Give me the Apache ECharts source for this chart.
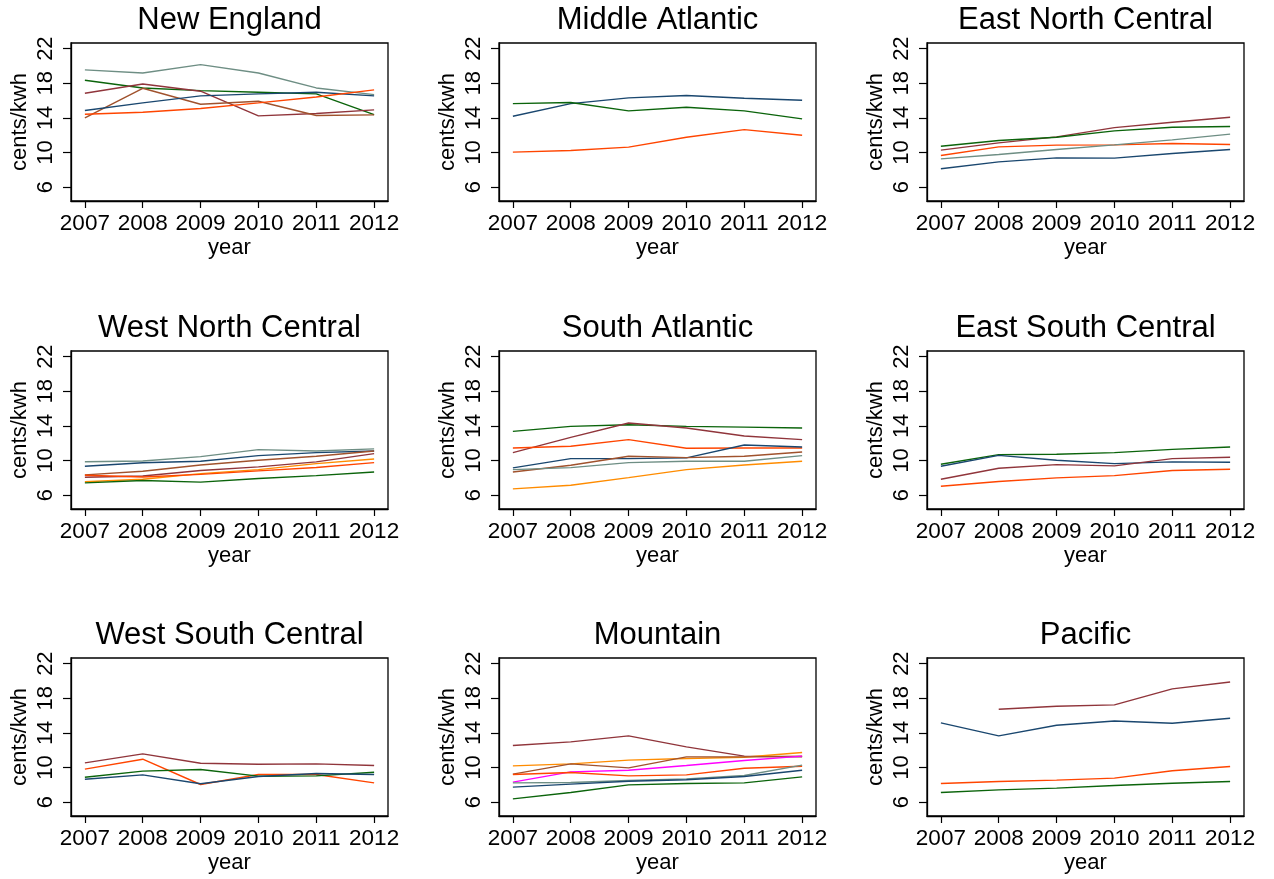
<!DOCTYPE html>
<html><head><meta charset="utf-8">
<script src="https://cdn.jsdelivr.net/npm/echarts@6/dist/echarts.min.js"></script>
<style>html,body{margin:0;padding:0;background:#fff}#c{width:1274px;height:879px}</style>
</head><body><div id="c"></div>
<script>
// ---- data ----
const years = [2007, 2008, 2009, 2010, 2011, 2012];
const yTicks = [6, 10, 14, 18, 22];
const regions = ["New England", "Middle Atlantic", "East North Central",
  "West North Central", "South Atlantic", "East South Central",
  "West South Central", "Mountain", "Pacific"];

// New England
const NE_navy      = [14.85, 15.73, 16.54, 16.77, 16.96, 16.54];
const NE_maroon    = [16.85, 17.92, 17.08, 14.23, 14.50, 14.92];
const NE_green     = [18.35, 17.46, 17.15, 16.96, 16.77, 14.38];
const NE_orangered = [14.42, 14.65, 15.08, 15.73, 16.42, 17.23];
const NE_teal      = [19.54, 19.19, 20.15, 19.19, 17.46, 16.69];
const NE_brown     = [14.00, 17.42, 15.58, 15.92, 14.27, 14.35];
// Middle Atlantic
const MA_navy      = [14.19, 15.65, 16.31, 16.58, 16.27, 16.04];
const MA_green     = [15.65, 15.77, 14.81, 15.23, 14.81, 13.88];
const MA_orangered = [10.04, 10.23, 10.62, 11.77, 12.65, 12.00];
// East North Central
const ENC_navy      = [8.12, 8.92, 9.38, 9.35, 9.88, 10.35];
const ENC_maroon    = [10.27, 11.12, 11.81, 12.88, 13.50, 14.08];
const ENC_green     = [10.73, 11.38, 11.77, 12.50, 12.92, 13.00];
const ENC_orangered = [9.65, 10.65, 10.85, 10.88, 11.04, 10.92];
const ENC_teal      = [9.27, 9.77, 10.35, 10.88, 11.46, 12.12];
// West North Central
const WNC_teal      = [9.85, 9.95, 10.45, 11.26, 11.10, 11.35];
const WNC_navy      = [9.34, 9.75, 9.91, 10.56, 10.91, 11.10];
const WNC_brown     = [8.34, 8.76, 9.49, 10.03, 10.49, 11.10];
const WNC_maroon    = [8.07, 8.22, 8.84, 9.26, 9.84, 10.80];
const WNC_orange    = [7.55, 7.84, 8.49, 8.95, 9.64, 10.18];
const WNC_orangered = [8.30, 8.10, 8.40, 8.80, 9.20, 9.76];
const WNC_green     = [7.42, 7.69, 7.50, 7.92, 8.26, 8.68];
// South Atlantic
const SA_green     = [13.37, 13.94, 14.13, 13.94, 13.86, 13.75];
const SA_maroon    = [10.91, 12.68, 14.33, 13.75, 12.83, 12.41];
const SA_orangered = [11.45, 11.64, 12.41, 11.41, 11.45, 11.45];
const SA_navy      = [9.15, 10.22, 10.22, 10.30, 11.79, 11.56];
const SA_brown     = [8.68, 9.45, 10.49, 10.33, 10.49, 10.99];
const SA_teal      = [8.95, 9.18, 9.76, 9.91, 9.91, 10.56];
const SA_orange    = [6.73, 7.15, 8.03, 8.95, 9.49, 9.91];
// East South Central
const ESC_green     = [9.57, 10.68, 10.72, 10.91, 11.29, 11.56];
const ESC_navy      = [9.34, 10.60, 10.03, 9.64, 9.84, 9.80];
const ESC_maroon    = [7.84, 9.11, 9.53, 9.38, 10.22, 10.37];
const ESC_orangered = [7.03, 7.57, 7.99, 8.26, 8.84, 8.99];
// West South Central
const WSC_maroon    = [10.54, 11.58, 10.50, 10.38, 10.42, 10.23];
const WSC_orangered = [9.81, 10.96, 8.04, 9.19, 9.19, 8.23];
const WSC_green     = [8.88, 9.58, 9.77, 9.00, 9.04, 9.46];
const WSC_navy      = [8.65, 9.15, 8.12, 8.96, 9.31, 9.19];
// Mountain
const MT_maroon    = [12.54, 12.96, 13.65, 12.38, 11.31, 11.23];
const MT_orange    = [10.19, 10.42, 10.85, 11.04, 11.19, 11.73];
const MT_brown     = [9.23, 10.42, 9.96, 11.23, 11.23, 11.31];
const MT_magenta   = [8.31, 9.50, 9.69, 10.23, 10.81, 11.31];
const MT_orangered = [9.19, 9.42, 9.04, 9.15, 9.92, 10.15];
const MT_teal      = [8.23, 8.27, 8.50, 8.69, 9.08, 10.27];
const MT_navy      = [7.73, 8.08, 8.42, 8.58, 8.96, 9.69];
const MT_green     = [6.38, 7.12, 8.00, 8.15, 8.23, 8.92];
// Pacific
const PAC_maroon    = [null, 16.73, 17.08, 17.23, 19.08, 19.88];
const PAC_navy      = [15.15, 13.65, 14.88, 15.38, 15.12, 15.69];
const PAC_orangered = [8.15, 8.38, 8.54, 8.77, 9.62, 10.12];
const PAC_green     = [7.12, 7.42, 7.62, 7.92, 8.19, 8.38];

const panelLines = [
  [['teal', NE_teal], ['green', NE_green], ['maroon', NE_maroon], ['brown', NE_brown], ['navy', NE_navy], ['orangered', NE_orangered]],
  [['navy', MA_navy], ['green', MA_green], ['orangered', MA_orangered]],
  [['navy', ENC_navy], ['maroon', ENC_maroon], ['green', ENC_green], ['orangered', ENC_orangered], ['teal', ENC_teal]],
  [['teal', WNC_teal], ['navy', WNC_navy], ['brown', WNC_brown], ['maroon', WNC_maroon], ['orange', WNC_orange], ['orangered', WNC_orangered], ['green', WNC_green]],
  [['green', SA_green], ['maroon', SA_maroon], ['orangered', SA_orangered], ['navy', SA_navy], ['brown', SA_brown], ['teal', SA_teal], ['orange', SA_orange]],
  [['green', ESC_green], ['navy', ESC_navy], ['maroon', ESC_maroon], ['orangered', ESC_orangered]],
  [['maroon', WSC_maroon], ['orangered', WSC_orangered], ['green', WSC_green], ['navy', WSC_navy]],
  [['maroon', MT_maroon], ['orange', MT_orange], ['brown', MT_brown], ['magenta', MT_magenta], ['orangered', MT_orangered], ['teal', MT_teal], ['navy', MT_navy], ['green', MT_green]],
  [['maroon', PAC_maroon], ['navy', PAC_navy], ['orangered', PAC_orangered], ['green', PAC_green]]
];

// ---- styles / layout ----
const colors = {
  navy: '#1a476f', maroon: '#90353b', green: '#0b640b', orangered: '#ff4500',
  teal: '#6e8e84', brown: '#a0522d', orange: '#ff8c00', magenta: '#ff00ff'
};
const FONT = 'Liberation Sans, Arial, Helvetica, sans-serif';
const colLeft = [71, 499, 927];
const rowTop = [43, 351, 658];
const PW = 317, PH = 158;

const grids = [], xAxes = [], yAxes = [], series = [], graphics = [];
for (let p = 0; p < 9; p++) {
  const r = Math.floor(p / 3), c = p % 3;
  grids.push({ left: colLeft[c], top: rowTop[r], width: PW, height: PH,
    show: true, borderColor: '#000', borderWidth: 1.3, backgroundColor: '#fff', containLabel: false });
  xAxes.push({ type: 'value', gridIndex: p, min: 2006.76, max: 2012.24,
    name: 'year', nameLocation: 'middle', nameGap: 36,
    nameTextStyle: { fontFamily: FONT, fontSize: 22, color: '#000' },
    axisLine: { show: true, onZero: false, lineStyle: { color: '#000', width: 1.3 } },
    axisTick: { show: true, length: 7, customValues: years, lineStyle: { color: '#000', width: 1.2 } },
    axisLabel: { customValues: years, fontFamily: FONT, fontSize: 22.5, color: '#000', margin: 11,
      formatter: v => String(v) },
    splitLine: { show: false } });
  yAxes.push({ type: 'value', gridIndex: p, min: 4.4, max: 22.65,
    name: 'cents/kwh', nameLocation: 'middle', nameGap: 40,
    nameTextStyle: { fontFamily: FONT, fontSize: 22, color: '#000' },
    axisLine: { show: true, onZero: false, lineStyle: { color: '#000', width: 1.3 } },
    axisTick: { show: true, length: 8, customValues: yTicks, lineStyle: { color: '#000', width: 1.2 } },
    axisLabel: { customValues: yTicks, rotate: 90, fontFamily: FONT, fontSize: 22, color: '#000', margin: 14 },
    splitLine: { show: false } });
  graphics.push({ type: 'text', x: colLeft[c] + PW / 2, y: rowTop[r] - 23,
    style: { text: regions[p], fontFamily: FONT, fontSize: 31, fill: '#000',
      textAlign: 'center', textVerticalAlign: 'middle' } });
  panelLines[p].forEach(([key, vals]) => {
    series.push({ type: 'line', xAxisIndex: p, yAxisIndex: p, name: regions[p] + ' ' + key,
      data: years.map((y, i) => [y, vals[i]]), showSymbol: false, symbol: 'none',
      connectNulls: false, lineStyle: { color: colors[key], width: 1.4 },
      itemStyle: { color: colors[key] }, emphasis: { disabled: true } });
  });
}

const chart = echarts.init(document.getElementById('c'), null, { renderer: 'canvas' });
chart.setOption({ animation: false, backgroundColor: '#fff',
  grid: grids, xAxis: xAxes, yAxis: yAxes, series: series, graphic: graphics });
</script></body></html>
